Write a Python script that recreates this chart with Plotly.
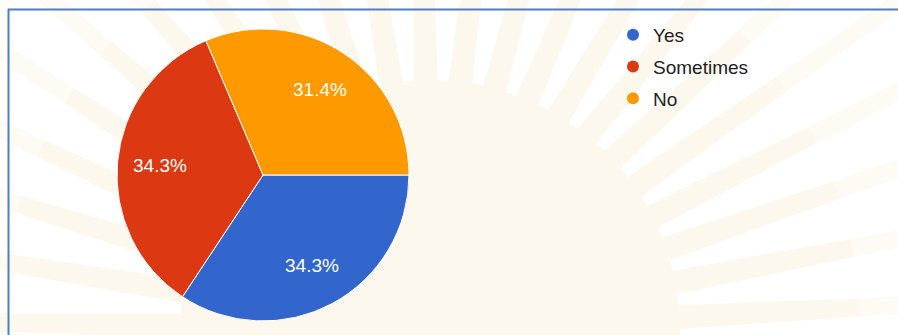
import math
import plotly.graph_objects as go

# Survey answers and their shares (percent of responses)
answers = ["Yes", "Sometimes", "No"]
shares = [34.3, 34.3, 31.4]
colors = ["#3366cc", "#dc3912", "#ff9900"]

W, H = 898, 335


def px_to_paper(x, y):
    return x / W, 1 - y / H


def poly_path(points):
    pts = [px_to_paper(x, y) for x, y in points]
    return "M " + " L ".join(f"{x:.5f},{y:.5f}" for x, y in pts) + " Z"


shapes = []

# Faint sunburst watermark behind the chart
cx, cy = 430, 330
inner_r, mid_r, outer_r = 250, 430, 900
cream_in = "rgba(248,232,200,0.30)"
cream_out = "rgba(248,232,200,0.20)"
disc = [(cx + inner_r * math.cos(math.radians(a)), cy - inner_r * math.sin(math.radians(a)))
        for a in range(0, 361, 3)]
shapes.append(dict(type="path", path=poly_path(disc), xref="paper", yref="paper",
                   fillcolor=cream_in, line=dict(width=0), layer="below"))
n_rays = 45


def ray_point(ux, uy, nx, ny, r, half_w, sign):
    return (cx + ux * r + sign * nx * half_w, cy + uy * r + sign * ny * half_w)


for i in range(n_rays):
    a = math.radians(i * 360 / n_rays + 3)
    ux, uy = math.cos(a), -math.sin(a)
    nx, ny = -uy, ux
    w_in, w_mid, w_out = 12, 9, 6
    seg1 = [ray_point(ux, uy, nx, ny, inner_r, w_in, 1), ray_point(ux, uy, nx, ny, inner_r, w_in, -1),
            ray_point(ux, uy, nx, ny, mid_r, w_mid, -1), ray_point(ux, uy, nx, ny, mid_r, w_mid, 1)]
    seg2 = [ray_point(ux, uy, nx, ny, mid_r, w_mid, 1), ray_point(ux, uy, nx, ny, mid_r, w_mid, -1),
            ray_point(ux, uy, nx, ny, outer_r, w_out, -1), ray_point(ux, uy, nx, ny, outer_r, w_out, 1)]
    shapes.append(dict(type="path", path=poly_path(seg1), xref="paper", yref="paper",
                       fillcolor=cream_in, line=dict(width=0), layer="below"))
    shapes.append(dict(type="path", path=poly_path(seg2), xref="paper", yref="paper",
                       fillcolor=cream_out, line=dict(width=0), layer="below"))

# Blue frame along the top and left edges
shapes.append(dict(type="line", xref="paper", yref="paper",
                   x0=8 / W, x1=1.0, y0=1 - 9.5 / H, y1=1 - 9.5 / H,
                   line=dict(color="#4f7fc0", width=2), layer="above"))
shapes.append(dict(type="line", xref="paper", yref="paper",
                   x0=8.5 / W, x1=8.5 / W, y0=1 - 9 / H, y1=0,
                   line=dict(color="#4f7fc0", width=2), layer="above"))

fig = go.Figure()

# Pie geometry (pixels): centre and radius
pcx, pcy, pr = 263, 175, 146
start_deg = 90  # first slice starts at 3 o'clock, running clockwise
fig.add_trace(go.Pie(
    labels=answers,
    values=shares,
    sort=False,
    direction="clockwise",
    rotation=start_deg,
    marker=dict(colors=colors, line=dict(color="white", width=1)),
    textinfo="none",
    hoverinfo="label+percent",
    showlegend=False,
    domain=dict(x=[(pcx - pr) / W, (pcx + pr) / W], y=[1 - (pcy + pr) / H, 1 - (pcy - pr) / H]),
))

# Percentage labels placed at each slice's mid-angle
annotations = []
total = sum(shares)
acc = 0.0
for v in shares:
    mid = math.radians(start_deg + (acc + v / 2) / total * 360)
    acc += v
    r = 0.705 * pr
    lx = pcx + r * math.sin(mid)
    ly = pcy - r * math.cos(mid)
    x, y = px_to_paper(lx, ly)
    annotations.append(dict(
        x=x, y=y, xref="paper", yref="paper", showarrow=False,
        text=f"{v / total * 100:.1f}%",
        font=dict(family="Liberation Sans, Arial, sans-serif", size=19, color="white"),
        xanchor="center", yanchor="middle",
    ))

# Legend entries with round markers
for name, col in zip(answers, colors):
    fig.add_trace(go.Scatter(
        x=[None], y=[None], mode="markers", name=name,
        marker=dict(symbol="circle", size=19, color=col),
        legendgroup=name, showlegend=True,
    ))

fig.update_layout(
    width=W, height=H,
    margin=dict(l=0, r=0, t=0, b=0),
    paper_bgcolor="white",
    plot_bgcolor="rgba(0,0,0,0)",
    xaxis=dict(visible=False),
    yaxis=dict(visible=False),
    shapes=shapes,
    annotations=annotations,
    legend=dict(
        x=613 / W, y=1 - 16 / H, xanchor="left", yanchor="top",
        bgcolor="rgba(0,0,0,0)",
        font=dict(family="Liberation Sans, Arial, sans-serif", size=19, color="#222222"),
        tracegroupgap=4,
        itemsizing="constant",
    ),
)

fig.write_html("out.html")
